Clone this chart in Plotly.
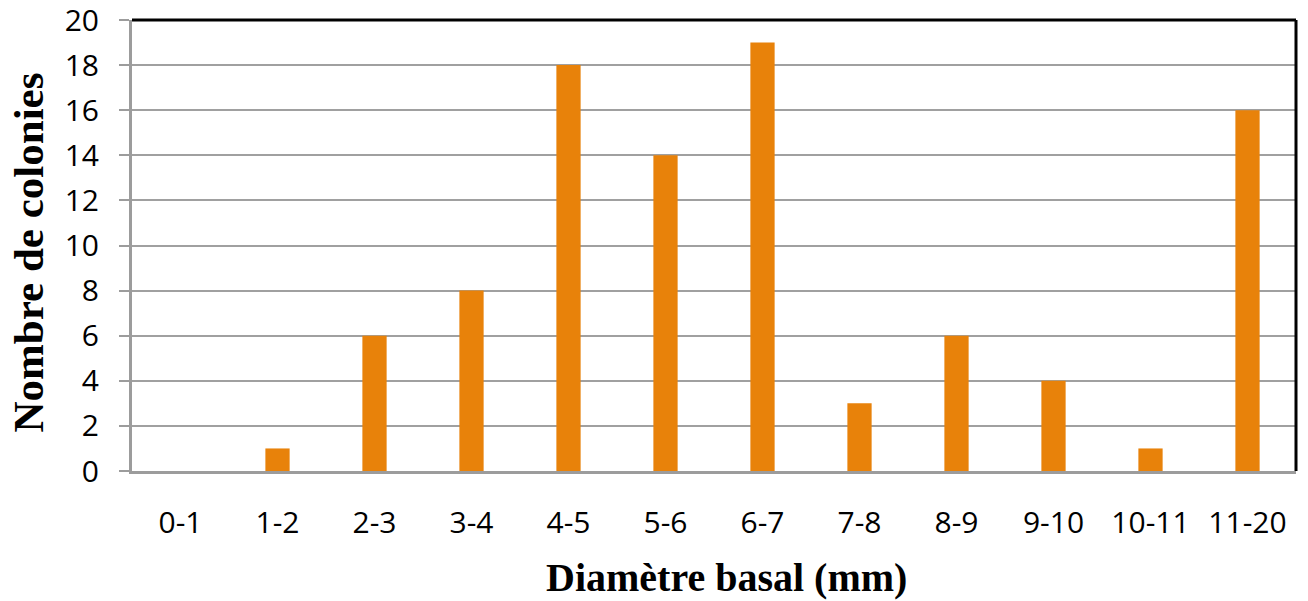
import plotly.graph_objects as go

classes = ["0-1", "1-2", "2-3", "3-4", "4-5", "5-6", "6-7", "7-8", "8-9", "9-10", "10-11", "11-20"]
colonies = [0, 1, 6, 8, 18, 14, 19, 3, 6, 4, 1, 16]
y_ticks = [0, 2, 4, 6, 8, 10, 12, 14, 16, 18, 20]

fig = go.Figure([go.Bar(x=classes, y=colonies, width=0.25,
                        marker=dict(color="#E8820A", line=dict(width=0)))])

# page body has an 8px margin, so the figure is a bit smaller than the window
fig.update_layout(
    width=1300, height=593,
    margin=dict(l=124, r=12, t=12, b=130),
    plot_bgcolor="white", paper_bgcolor="white",
    showlegend=False,
    font=dict(family="Open Sans", color="black"),
)

fig.update_xaxes(
    type="category", automargin=False,
    showline=True, linecolor="#9C9C9C", linewidth=3,
    tickfont=dict(size=30, family="Open Sans"), ticklabelstandoff=23,
    showgrid=False,
)

fig.update_yaxes(
    automargin=False,
    range=[0, 20], tickvals=y_ticks, ticklabeloverflow="allow",
    showline=True, linecolor="#9C9C9C", linewidth=3,
    ticks="outside", ticklen=10, tickwidth=2, tickcolor="#9C9C9C",
    tickfont=dict(size=30, family="Open Sans"), ticklabelstandoff=14,
    showgrid=True, gridcolor="#A0A0A0", gridwidth=2,
    zeroline=False,
)

fig.add_annotation(text="Diamètre basal (mm)", xref="paper", yref="paper",
                   x=0.5, y=0, xanchor="center", yanchor="middle", xshift=12, yshift=-106,
                   showarrow=False,
                   font=dict(family="Liberation Serif", size=40, color="black", weight="bold"))
fig.add_annotation(text="Nombre de colonies", xref="paper", yref="paper",
                   x=0, y=0.5, xanchor="center", yanchor="middle", xshift=-104, yshift=-7,
                   textangle=-90, showarrow=False,
                   font=dict(family="Liberation Serif", size=43, color="black", weight="bold"))

fig.add_shape(type="line", xref="paper", yref="paper", x0=0, x1=1, y0=1, y1=1,
              line=dict(color="black", width=3))
fig.add_shape(type="line", xref="paper", yref="paper", x0=1, x1=1, y0=0, y1=1,
              line=dict(color="black", width=3))

fig.write_html("out.html")
